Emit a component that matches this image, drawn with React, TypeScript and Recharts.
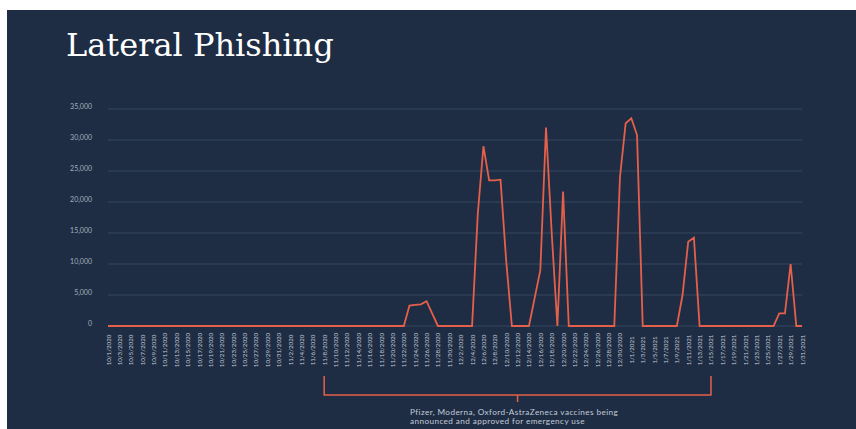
import { LineChart, Line, XAxis, YAxis, CartesianGrid } from "recharts";

// daily counts, one array per month
const octValues = [
  0, 0, 0, 0, 0, 0, 0, 0, 0, 0, 0, 0, 0, 0, 0, 0, 0, 0, 0, 0, 0, 0, 0, 0, 0, 0,
  0, 0, 0, 0, 0,
];
const novValues = [
  0, 0, 0, 0, 0, 0, 0, 0, 0, 0, 0, 0, 0, 0, 0, 0, 0, 0, 0, 0, 0, 0, 3300, 3400,
  3500, 4000, 2000, 0, 0, 0,
];
const decValues = [
  0, 0, 0, 0, 18000, 29000, 23500, 23500, 23600, 10500, 0, 0, 0, 0, 4500, 9000,
  32000, 15000, 0, 21700, 0, 0, 0, 0, 0, 0, 0, 0, 0, 24000, 32700,
];
const janValues = [
  33500, 30800, 0, 0, 0, 0, 0, 0, 0, 5000, 13600, 14250, 0, 0, 0, 0, 0, 0, 0, 0,
  0, 0, 0, 0, 0, 0, 2050, 2050, 10000, 0, 0,
];

const months = [
  { month: 10, year: 2020, values: octValues },
  { month: 11, year: 2020, values: novValues },
  { month: 12, year: 2020, values: decValues },
  { month: 1, year: 2021, values: janValues },
];

const yTicks = [0, 5000, 10000, 15000, 20000, 25000, 30000, 35000];

const title = "Lateral Phishing";
const noteLines = [
  "Pfizer, Moderna, Oxford-AstraZeneca vaccines being",
  "announced and approved for emergency use",
];
// bracket spans these dates, with the pointer under the middle one
const bracketFrom = "11/8/2020";
const bracketMid = "12/12/2020";
const bracketTo = "1/15/2021";

const data = months.flatMap((m) =>
  m.values.map((value, i) => ({
    date: `${m.month}/${i + 1}/${m.year}`,
    value,
  }))
);

const W = 856;
const H = 429;
const margin = { top: 109, right: 54, bottom: 0, left: 88 };
const Y_WIDTH = 20;
const X_HEIGHT = 103;
const plotLeft = margin.left + Y_WIDTH;
const plotRight = W - margin.right;

const BG = "#1e2d44";
const RED = "#e4604a";
const TEXT = "#c3cbd7";

const xOf = (date: string) => {
  const idx = data.findIndex((d) => d.date === date);
  return plotLeft + (idx * (plotRight - plotLeft)) / (data.length - 1);
};

function XTick(props: any) {
  const { x, y, payload } = props;
  return (
    <text
      transform={`translate(${x},${y}) rotate(-90)`}
      textAnchor="middle"
      dominantBaseline="central"
      fontSize={6.2}
      fill={TEXT}
      fontFamily="Lato, sans-serif"
    >
      {payload.value}
    </text>
  );
}

function YTick(props: any) {
  const { x, y, payload } = props;
  return (
    <text
      x={x}
      y={y - 3}
      textAnchor="end"
      dominantBaseline="central"
      fontSize={7}
      fill="#a3aebd"
      fontFamily="Lato, sans-serif"
    >
      {Number(payload.value).toLocaleString("en-US")}
    </text>
  );
}

export default function App() {
  const x1 = xOf(bracketFrom);
  const xm = xOf(bracketMid);
  const x2 = xOf(bracketTo);
  return (
    <div
      style={{
        position: "absolute",
        left: 0,
        top: 0,
        width: W,
        height: H,
        background: "#ffffff",
        overflow: "hidden",
      }}
    >
      <div
        style={{
          position: "absolute",
          left: 7,
          top: 10,
          width: W - 7,
          height: H - 10,
          background: BG,
        }}
      />
      <div
        style={{
          position: "absolute",
          left: 66,
          top: 24,
          color: "#ffffff",
          fontFamily: "'DejaVu Serif', serif",
          fontSize: 32,
          lineHeight: "42px",
          whiteSpace: "nowrap",
        }}
      >
        {title}
      </div>
      <div style={{ position: "absolute", left: 0, top: 0 }}>
        <LineChart width={W} height={H} data={data} margin={margin}>
          <CartesianGrid vertical={false} stroke="#34475f" strokeWidth={1} />
          <XAxis
            dataKey="date"
            interval={1}
            tickLine={false}
            axisLine={false}
            height={X_HEIGHT}
            tickMargin={18}
            tick={<XTick />}
          />
          <YAxis
            domain={[0, 35000]}
            ticks={yTicks}
            width={Y_WIDTH}
            tickLine={false}
            axisLine={false}
            tickMargin={10}
            tick={<YTick />}
          />
          <Line
            type="linear"
            dataKey="value"
            stroke={RED}
            strokeWidth={1.8}
            dot={false}
            isAnimationActive={false}
          />
        </LineChart>
      </div>
      <svg
        width={W}
        height={H}
        style={{ position: "absolute", left: 0, top: 0, pointerEvents: "none" }}
      >
        <polyline
          points={`${x1},376 ${x1},395 ${x2},395 ${x2},376`}
          fill="none"
          stroke={RED}
          strokeWidth={1.5}
        />
        <line x1={xm} y1={395} x2={xm} y2={402} stroke={RED} strokeWidth={1.5} />
        {noteLines.map((t, i) => (
          <text
            key={t}
            x={410}
            y={412 + i * 9}
            fontSize={8.2}
            letterSpacing={0.4}
            fill={TEXT}
            dominantBaseline="central"
            fontFamily="Lato, sans-serif"
          >
            {t}
          </text>
        ))}
      </svg>
    </div>
  );
}
